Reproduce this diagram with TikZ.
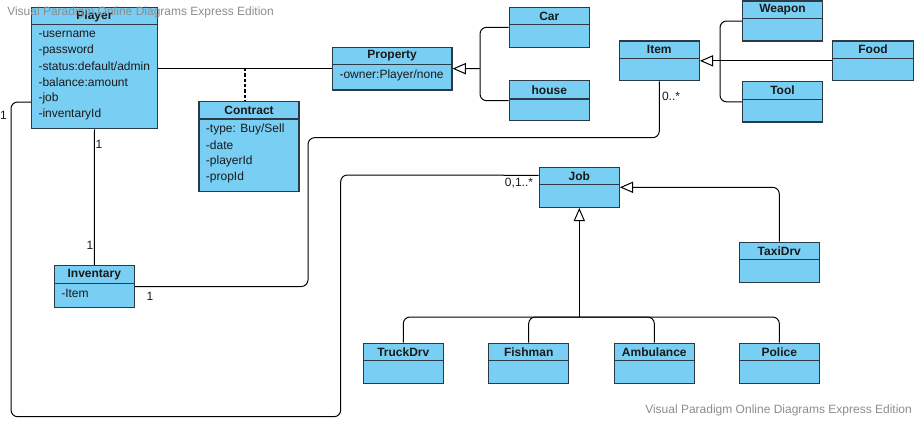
\documentclass[tikz,border=0pt]{standalone}
\usepackage{fontspec}
\setmainfont{Liberation Sans}
\usetikzlibrary{arrows.meta,fit,calc}
\definecolor{clsfill}{HTML}{79CEF4}
\definecolor{clsdraw}{HTML}{2B3A44}
\definecolor{txt}{HTML}{1A1A1A}
\definecolor{wmgray}{HTML}{8C8C8C}
\tikzset{
  classbox/.style={draw=clsdraw, fill=clsfill, line width=0.9pt, inner sep=0pt},
  headline/.style={draw=clsdraw, line width=0.9pt},
  ttl/.style={font=\fontsize{9}{10}\selectfont\bfseries, text=txt, inner sep=0pt},
  attr/.style={font=\fontsize{9}{10}\selectfont, text=txt, anchor=west, inner sep=0pt},
  conn/.style={draw=black, line width=0.75pt, rounded corners=5pt},
  gen/.style={conn, -{Triangle[open, length=10pt, width=8.5pt, fill=white]}},
  mult/.style={font=\fontsize{9}{10}\selectfont, text=txt, inner sep=0pt},
  wm/.style={font=\fontsize{9}{10}\selectfont, text=wmgray, anchor=west, inner sep=0pt}
}
\newcommand\umlcls[7]{%
  \node[classbox, fit={(#2,#3) (#4,#5)}] (#1) {};
  \draw[headline] (#2,#6) -- (#4,#6);
  \node[ttl] at ({(#2+#4)/2},{(#3+#6)/2}) {#7};
}
\begin{document}
\begin{tikzpicture}[x=0.75pt,y=-0.75pt]
\useasboundingbox (0,0) rectangle (916,421);
% connectors drawn first (under boxes)
\coordinate (pj) at (480,68.7);
\coordinate (ij) at (720,60.8);
\coordinate (jb) at (579.3,317);
\coordinate (cd) at (245,68);

% classes
\umlcls{player}{31.7}{7.3}{157.3}{128.7}{24.7}{Player}
\node[attr] (pa1) at (38.3,34.7) {-username};
\node[attr] (pa2) at (38.3,50.8) {-password};
\node[attr] (pa3) at (38.3,66.7) {-status:default/admin};
\node[attr] (pa4) at (38.3,82.5) {-balance:amount};
\node[attr] (pa5) at (38.3,98.7) {-job};
\node[attr] (pa6) at (38.3,114.8) {-inventaryId};

\umlcls{contract}{199}{101.7}{299}{191.3}{119}{Contract}
\node[attr] (ca1) at (205.7,129.3) {-type: Buy/Sell};
\node[attr] (ca2) at (205.7,145.5) {-date};
\node[attr] (ca3) at (205.7,161.5) {-playerId};
\node[attr] (ca4) at (205.7,177.3) {-propId};

\umlcls{prop}{332.3}{47.3}{452}{90}{64.3}{Property}
\node[attr] (pr1) at (339.3,75) {-owner:Player/none};

\umlcls{car}{509.3}{7.3}{589.3}{47.3}{24.7}{Car}
\umlcls{house}{509.3}{80.7}{589.3}{120.7}{99}{house}

\umlcls{item}{619.3}{41}{699.3}{80.7}{58.3}{Item}
\umlcls{weapon}{742.7}{1}{822.3}{41}{18.7}{Weapon}
\umlcls{food}{832.7}{41}{913.3}{80.7}{58.3}{Food}
\umlcls{tool}{742.7}{81.7}{822.3}{122}{99.3}{Tool}

\umlcls{inv}{54.3}{265.7}{134.3}{307.3}{283.3}{Inventary}
\node[attr] (ia1) at (61,293.7) {-Item};

\umlcls{job}{539.3}{167.3}{619.3}{207.3}{184.3}{Job}
\umlcls{taxi}{739.3}{242.3}{819.3}{282.3}{259.7}{TaxiDrv}
\umlcls{truck}{363.3}{343.3}{443.3}{383.3}{360.7}{TruckDrv}
\umlcls{fish}{488.7}{343.3}{568.7}{383.3}{360.7}{Fishman}
\umlcls{amb}{614.3}{343.3}{694.3}{383.3}{360.7}{Ambulance}
\umlcls{police}{739.3}{343.3}{819.3}{383.3}{360.7}{Police}

% associations
\draw[conn] (player.east) -- (player.east -| prop.west);
\draw[conn, dashed, line width=1pt, dash pattern=on 2.5pt off 1.5pt] (cd) -- (cd |- contract.north);
\draw[conn] (player.south) -- (inv.north);
\draw[conn] (item.south) |- (308,137.7) |- (inv.east);
\draw[conn] ([yshift=-25.5pt]player.west) -| (11,416.7) -| (340.7,175) -- ([yshift=9pt]job.west);

% generalizations
\draw[conn] (car.west) -| (pj);
\draw[conn] (house.west) -| (pj);
\draw[gen] (pj) -- (prop.east);

\draw[conn] (weapon.west) -| (ij);
\draw[conn] (tool.west) -| (ij);
\draw[gen] (food.west) -- (item.east);

\draw[conn] (truck.north) |- (jb);
\draw[conn] (fish.north) |- (jb);
\draw[conn] (amb.north) |- (jb);
\draw[conn] (police.north) |- (jb);
\draw[gen] (jb) -- (job.south);

\draw[gen] (taxi.north) |- (job.east);

% multiplicities
\node[mult] (m1) at (99,144) {1};
\node[mult] (m2) at (90,245.7) {1};
\node[mult] (m3) at (3.5,115) {1};
\node[mult] (m4) at (150,296) {1};
\node[mult] (m5) at (671,96) {0..*};
\node[mult] (m6) at (519,182.7) {0,1..*};

% watermarks
\node[wm] (w1) at (7,12) {Visual Paradigm Online Diagrams Express Edition};
\node[wm] (w2) at (645,410) {Visual Paradigm Online Diagrams Express Edition};
\end{tikzpicture}
\end{document}
